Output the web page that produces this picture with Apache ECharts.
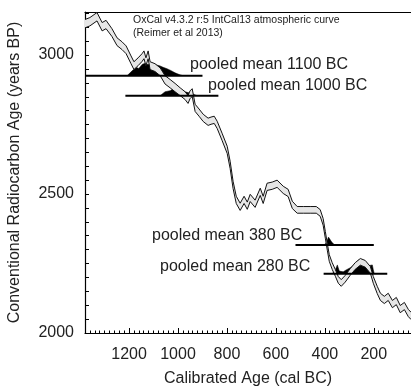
<!DOCTYPE html>
<html>
<head>
<meta charset="utf-8">
<script src="https://cdn.jsdelivr.net/npm/echarts@6/dist/echarts.min.js"></script>
<style>
  html, body { margin: 0; padding: 0; background: #fff; }
  #chart { width: 411px; height: 387px; }
</style>
</head>
<body>
<div id="chart"></div>
<script>
// calibration curve (IntCal13): cal BC / BP mid / 1 sigma
const calYears = [1380,1360,1331,1310,1294,1270,1249,1229,1212,1192,1180,1163,1147,1139,1131,1122,1114,1094,1073,1053,1032,1012,991,971,959,951,942,930,914,897,877,865,852,840,820,799,787,775,762,746,730,717,705,685,664,652,636,615,595,570,550,533,513,488,460,435,419,407,398,390,382,370,357,345,333,317,296,276,255,235,214,202,186,173,157,141,124,108,92,75,59,47];
const calMid = [3113,3120,3138,3102,3110,3081,3048,3034,3019,2983,2962,2976,2991,3001,2976,3001,2962,2955,2940,2911,2897,2883,2868,2854,2840,2857,2865,2810,2793,2774,2760,2764,2767,2749,2706,2659,2605,2533,2479,2454,2479,2458,2486,2465,2508,2479,2526,2530,2537,2515,2504,2461,2443,2443,2443,2443,2432,2400,2353,2310,2270,2241,2216,2191,2180,2195,2220,2241,2256,2249,2227,2191,2155,2130,2119,2130,2104,2115,2086,2097,2072,2061];
const calSigma = [15,15,15,15,15,14,14,14,14,14,14,14,14,14,14,14,14,14,14,15,15,15,14,14,14,14,14,13,13,13,13,13,13,13,13,13,13,13,13,13,13,13,13,13,13,13,13,13,13,13,13,13,12,12,12,12,12,12,12,12,12,12,12,12,12,12,12,12,12,12,12,12,13,13,13,13,13,13,13,13,13,13];

// pooled means: label, line BP, line start / end (cal BC)
const pooledLabels = ['pooled mean 1100 BC', 'pooled mean 1000 BC', 'pooled mean 380 BC', 'pooled mean 280 BC'];
const pooledBP = [2926, 2854, 2317, 2213];
const pooledFrom = [1380, 1215, 520, 405];
const pooledTo = [900, 835, 200, 145];

// probability distributions: [cal BC, height above line in years]
const dist1100 = [[1208,0],[1196,10],[1184,20],[1172,30],[1160,26],[1147,40],[1135,45],[1122,40],[1110,44],[1098,40],[1086,38],[1073,35],[1061,30],[1045,25],[1028,18],[1012,10],[995,4],[980,0]];
const dist1000 = [[1073,0],[1053,14],[1032,18],[1012,29],[1004,32],[991,22],[971,14],[959,11],[942,7],[922,0]];
const dist380 = [[404,0],[395,6],[390,18],[385,28],[382,30],[378,22],[372,10],[365,3],[360,0]];
const dist280 = [[370,0],[357,15],[349,32],[341,10],[333,3],[325,7],[313,14],[296,22],[284,29],[276,32],[268,40],[263,50],[255,43],[247,40],[239,36],[231,32],[222,29],[214,36],[206,32],[202,15],[198,0]];

const xMajor = [1200, 1000, 800, 600, 400, 200];
const yMajor = [2000, 2500, 3000];

const FONT = '"Liberation Sans", Arial, Helvetica, sans-serif';
const X_MIN = 48, X_MAX = 1380, Y_MIN = 2000, Y_MAX = 3155;

const xMinor = [];
for (let v = 60; v <= 1380; v += 20) xMinor.push(v);
const yTicks = [];
for (let v = 2000; v <= 3150; v += 50) yTicks.push(v);

const chart = echarts.init(document.getElementById('chart'), null, { renderer: 'canvas' });

const upper = calYears.map((x, i) => [x, calMid[i] + calSigma[i]]);
const lower = calYears.map((x, i) => [x, calMid[i] - calSigma[i]]);

const dists = [dist1100, dist1000, dist380, dist280];
const distSeries = dists.map((d, i) => ({
  type: 'line',
  data: d.map(p => [p[0], pooledBP[i] + p[1]]),
  symbol: 'none',
  lineStyle: { color: '#000', width: 0.5 },
  areaStyle: { color: '#000', opacity: 1, origin: pooledBP[i] },
  z: 2,
  silent: true,
}));

const lineSeries = pooledBP.map((bp, i) => ({
  type: 'line',
  data: [[pooledFrom[i], bp], [pooledTo[i], bp]],
  symbol: 'none',
  lineStyle: { color: '#000', width: 2 },
  z: 5,
  silent: true,
}));

const edgeSeries = [upper, lower].map(d => ({
  type: 'line',
  data: d,
  symbol: 'none',
  lineStyle: { color: '#111', width: 1 },
  z: 4,
  silent: true,
}));

// label positions (px) for the annotations
const labelPos = [[190, 65], [208, 86], [152, 236], [160, 267]];

const baseAxis = {
  type: 'value',
  min: X_MIN,
  max: X_MAX,
  inverse: true,
  splitLine: { show: false },
};

const option = {
  animation: false,
  backgroundColor: '#fff',
  grid: { left: 85, right: 0, top: 12, bottom: 54, outerBoundsMode: 'none' },
  xAxis: [
    {
      ...baseAxis,
      position: 'bottom',
      name: 'Calibrated Age (cal BC)',
      nameLocation: 'middle',
      nameGap: 38,
      nameTextStyle: { fontFamily: FONT, fontSize: 16, color: '#222' },
      axisLine: { onZero: false, lineStyle: { color: '#000', width: 1.2 } },
      axisTick: { inside: true, length: 5, customValues: xMajor, lineStyle: { color: '#000' } },
      axisLabel: { customValues: xMajor, formatter: v => String(v), fontFamily: FONT, fontSize: 16, color: '#222', margin: 14 },
    },
    {
      // minor ticks every 20 years
      ...baseAxis,
      position: 'bottom',
      axisLine: { show: false, onZero: false },
      axisTick: { inside: true, length: 2.5, customValues: xMinor, lineStyle: { color: '#000' } },
      axisLabel: { show: false },
    },
    {
      // top frame line
      ...baseAxis,
      position: 'top',
      axisLine: { onZero: false, lineStyle: { color: '#000', width: 1.2 } },
      axisTick: { show: false },
      axisLabel: { show: false },
    },
  ],
  yAxis: {
    type: 'value',
    min: Y_MIN,
    max: Y_MAX,
    name: 'Conventional Radiocarbon Age (years BP)',
    nameLocation: 'middle',
    nameGap: 62,
    nameTextStyle: { fontFamily: FONT, fontSize: 16, color: '#222' },
    splitLine: { show: false },
    axisLine: { onZero: false, lineStyle: { color: '#000', width: 1.2 } },
    axisTick: { inside: true, length: 4, customValues: yTicks, lineStyle: { color: '#000' } },
    axisLabel: { customValues: yMajor, formatter: v => String(v), fontFamily: FONT, fontSize: 16, color: '#222', margin: 11 },
  },
  series: [
    ...distSeries,
    {
      // grey 1-sigma band between upper and lower curve
      type: 'custom',
      data: [0],
      silent: true,
      z: 3,
      renderItem: (params, api) => {
        const pts = upper.map(p => api.coord(p)).concat(lower.slice().reverse().map(p => api.coord(p)));
        return {
          type: 'polygon',
          shape: { points: pts },
          style: { fill: '#e6e6e6', stroke: null },
        };
      },
    },
    ...edgeSeries,
    ...lineSeries,
  ],
  graphic: [
    {
      type: 'text', x: 133, y: 20,
      style: { text: 'OxCal v4.3.2 r:5 IntCal13 atmospheric curve', font: '10.5px ' + FONT, fill: '#222', verticalAlign: 'middle' },
    },
    {
      type: 'text', x: 133, y: 33,
      style: { text: '(Reimer et al 2013)', font: '10.5px ' + FONT, fill: '#222', verticalAlign: 'middle' },
    },
    ...pooledLabels.map((t, i) => ({
      type: 'text', x: labelPos[i][0], y: labelPos[i][1],
      style: { text: t, font: '16px ' + FONT, fill: '#222', verticalAlign: 'middle' },
    })),
  ],
};

chart.setOption(option);
</script>
</body>
</html>
